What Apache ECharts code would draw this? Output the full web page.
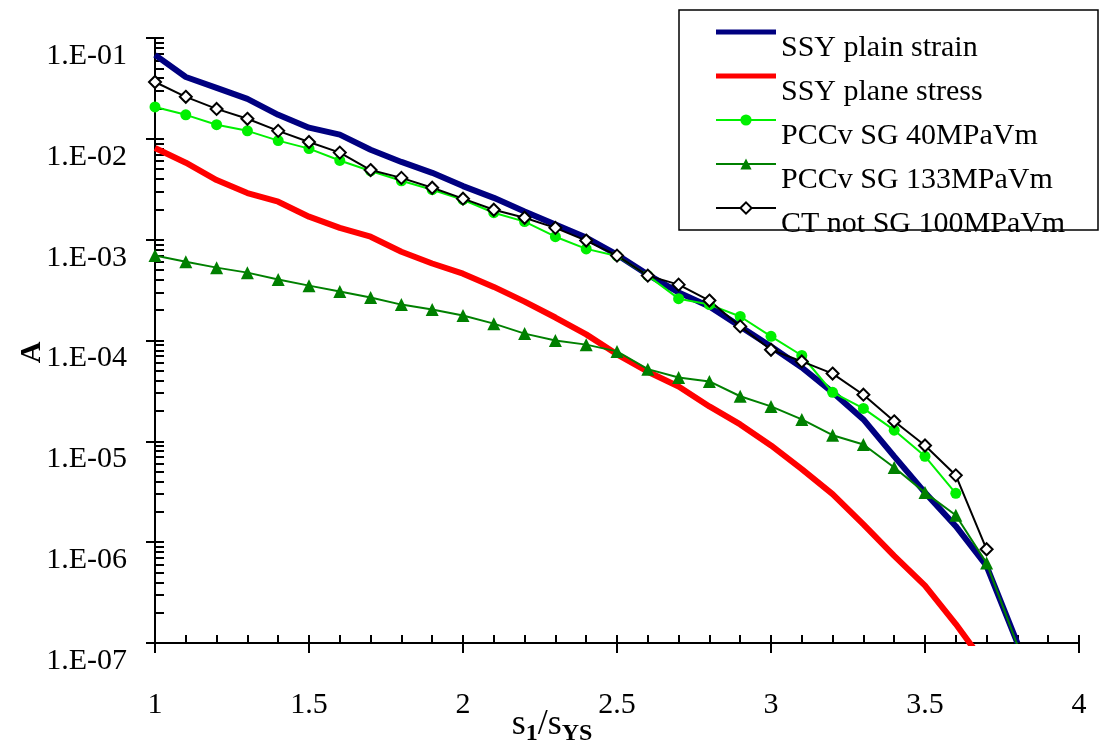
<!DOCTYPE html>
<html>
<head>
<meta charset="utf-8">
<script src="https://cdn.jsdelivr.net/npm/echarts@6.0.0/dist/echarts.min.js"></script>
<style>
html, body { margin: 0; padding: 0; background: #fff; }
#chart { width: 1099px; height: 749px; }
</style>
</head>
<body>
<div id="chart"></div>
<script>
// s1/sYS values shared by all curves
const xValues = [1.0, 1.1, 1.2, 1.3, 1.4, 1.5, 1.6, 1.7, 1.8, 1.9, 2.0, 2.1, 2.2, 2.3, 2.4,
    2.5, 2.6, 2.7, 2.8, 2.9, 3.0, 3.1, 3.2, 3.3, 3.4, 3.5, 3.6, 3.7, 3.8]

const ssyPlainStrain = [0.068, 0.041, 0.032, 0.0249, 0.0173, 0.0129, 0.011, 0.0078, 0.0059, 0.0046,
    0.0034, 0.0026, 0.0019, 0.00141, 0.00105, 7.1e-4, 4.5e-4, 3.0e-4, 2.17e-4, 1.38e-4,
    8.7e-5, 5.4e-5, 3.06e-5, 1.65e-5, 7.1e-6, 3.1e-6, 1.44e-6, 5.8e-7, 1.0e-7]
const ssyPlaneStress = [0.0081, 0.0058, 0.0039, 0.0029, 0.00238, 0.00169, 0.00131, 0.00107, 7.6e-4, 5.8e-4,
    4.6e-4, 3.4e-4, 2.43e-4, 1.69e-4, 1.15e-4, 7.3e-5, 4.9e-5, 3.5e-5, 2.22e-5, 1.47e-5,
    9.1e-6, 5.3e-6, 3.0e-6, 1.5e-6, 7.3e-7, 3.7e-7, 1.54e-7, 5.9e-8]
const pccv40 = [0.0207, 0.0173, 0.0138, 0.0120, 0.0096, 0.0080, 0.0061, 0.0048, 0.00384, 0.00313,
    0.00249, 0.00185, 0.00151, 0.00107, 8.1e-4, 6.9e-4, 4.4e-4, 2.6e-4, 2.27e-4, 1.73e-4,
    1.1e-4, 7.1e-5, 3.06e-5, 2.12e-5, 1.29e-5, 7.1e-6, 3.05e-6]
const pccv133 = [6.95e-4, 6.05e-4, 5.28e-4, 4.71e-4, 4.02e-4, 3.5e-4, 3.06e-4, 2.67e-4, 2.27e-4, 2.03e-4,
    1.77e-4, 1.47e-4, 1.17e-4, 1.0e-4, 9.1e-5, 7.8e-5, 5.2e-5, 4.3e-5, 3.93e-5, 2.8e-5,
    2.22e-5, 1.65e-5, 1.15e-5, 9.3e-6, 5.5e-6, 3.1e-6, 1.85e-6, 6.2e-7, 9.5e-8]
const ctNotSg = [0.0366, 0.0261, 0.0198, 0.0158, 0.0120, 0.0093, 0.0073, 0.0049, 0.0041, 0.00327,
    0.00255, 0.00198, 0.00165, 0.00131, 9.8e-4, 6.95e-4, 4.4e-4, 3.58e-4, 2.49e-4, 1.38e-4,
    8.1e-5, 6.2e-5, 4.7e-5, 2.9e-5, 1.58e-5, 9.1e-6, 4.6e-6, 8.5e-7]

const seriesNames = ['SSY plain strain', 'SSY plane stress', 'PCCv SG 40MPaVm', 'PCCv SG 133MPaVm', 'CT not SG 100MPaVm']

const yTickValues = [1e-7, 1e-6, 1e-5, 1e-4, 1e-3, 1e-2, 1e-1]
const yTickLabels = ['1.E-07', '1.E-06', '1.E-05', '1.E-04', '1.E-03', '1.E-02', '1.E-01']

// minor ticks 2..9 in each decade
let yMinorTicks = []
for (let i = 0; i < yTickValues.length - 1; i++) {
    for (let k = 2; k <= 9; k++) yMinorTicks.push(k * yTickValues[i])
}

const font = '"Liberation Serif", "Times New Roman", serif'
const pairs = (arr) => arr.map((v, i) => [xValues[i], v])
const thickIcon = 'path://M0,0L60,0L60,5L0,5Z'

const chart = echarts.init(document.getElementById('chart'))
const axisLine = { show: true, lineStyle: { color: '#000', width: 2 } }
const option = {
    animation: false,
    backgroundColor: '#fff',
    grid: { left: 155, right: 20, top: 38, bottom: 106, containLabel: false, outerBoundsMode: 'none' },
    // legend frame
    graphic: {
        elements: [{
            type: 'rect',
            z: 3,
            shape: { x: 679, y: 10, width: 419, height: 220 },
            style: { fill: '#fff', stroke: '#000', lineWidth: 1.5 },
        }],
    },
    legend: {
        orient: 'vertical',
        left: 715,
        top: 1,
        padding: 0,
        itemGap: -18,
        itemWidth: 60,
        itemHeight: 14,
        data: [
            { name: seriesNames[0], icon: thickIcon },
            { name: seriesNames[1], icon: thickIcon },
            seriesNames[2],
            seriesNames[3],
            seriesNames[4],
        ],
        formatter: (name) => '{t|' + name + '}',
        textStyle: {
            color: '#000',
            rich: {
                t: {
                    fontFamily: font,
                    fontSize: 30,
                    color: '#000',
                    lineHeight: 14,
                    padding: [32, 0, 0, 0],
                },
            },
        },
    },
    xAxis: [
        {
            type: 'value',
            min: 1,
            max: 4,
            interval: 0.5,
            position: 'bottom',
            axisLine: axisLine,
            axisTick: { show: true, length: 10, lineStyle: { color: '#000', width: 2 } },
            axisLabel: { fontFamily: font, fontSize: 30, color: '#000', margin: 47 },
            splitLine: { show: false },
            name: '{a|s}{b|1}{a|/s}{b|YS}',
            nameLocation: 'middle',
            nameGap: 61,
            nameMoveOverlap: false,
            nameTextStyle: {
                padding: [0, 130, 0, 0],
                rich: {
                    a: { fontFamily: font, fontSize: 36, color: '#000' },
                    b: { fontFamily: font, fontSize: 24, fontWeight: 'bold', color: '#000', padding: [18, 0, 0, 0] },
                },
            },
        },
        {
            // inner minor ticks
            type: 'value',
            min: 1,
            max: 4,
            interval: 0.1,
            position: 'bottom',
            axisLine: { show: false },
            axisTick: { show: true, inside: true, length: 8, lineStyle: { color: '#000', width: 2 } },
            axisLabel: { show: false },
            splitLine: { show: false },
        },
    ],
    yAxis: [
        {
            type: 'log',
            logBase: 10,
            min: 1e-7,
            max: 1e-1,
            position: 'left',
            axisLine: axisLine,
            axisTick: { show: true, length: 9, lineStyle: { color: '#000', width: 2 } },
            axisLabel: {
                fontFamily: font,
                fontSize: 30,
                color: '#000',
                margin: 28,
                verticalAlign: 'top',
                lineHeight: 36,
                formatter: (v) => {
                    const idx = yTickValues.findIndex(t => Math.abs(Math.log10(t) - Math.log10(v)) < 1e-6)
                    return idx >= 0 ? yTickLabels[idx] : ''
                },
            },
            splitLine: { show: false },
            name: 'A',
            nameLocation: 'middle',
            nameRotate: 90,
            nameGap: 108,
            nameMoveOverlap: false,
            nameTextStyle: {
                fontFamily: font,
                fontSize: 30,
                fontWeight: 'bold',
                color: '#000',
                padding: [0, 24, 0, 0],
            },
        },
        {
            // inner ticks (major + minor)
            type: 'log',
            logBase: 10,
            min: 1e-7,
            max: 1e-1,
            position: 'left',
            axisLine: { show: false },
            axisTick: {
                show: true,
                inside: true,
                length: 9,
                customValues: yTickValues.concat(yMinorTicks),
                lineStyle: { color: '#000', width: 2 },
            },
            axisLabel: { show: false },
            splitLine: { show: false },
        },
    ],
    series: [
        {
            name: seriesNames[0],
            type: 'line',
            data: pairs(ssyPlainStrain),
            symbol: 'none',
            lineStyle: { color: '#000080', width: 6 },
            itemStyle: { color: '#000080' },
        },
        {
            name: seriesNames[1],
            type: 'line',
            data: pairs(ssyPlaneStress),
            symbol: 'none',
            lineStyle: { color: '#ff0000', width: 6 },
            itemStyle: { color: '#ff0000' },
        },
        {
            name: seriesNames[2],
            type: 'line',
            data: pairs(pccv40),
            symbol: 'circle',
            symbolSize: 11,
            lineStyle: { color: '#00f000', width: 2 },
            itemStyle: { color: '#00f000' },
        },
        {
            name: seriesNames[3],
            type: 'line',
            data: pairs(pccv133),
            symbol: 'triangle',
            symbolSize: 13,
            lineStyle: { color: '#008000', width: 2 },
            itemStyle: { color: '#008000' },
        },
        {
            name: seriesNames[4],
            type: 'line',
            data: pairs(ctNotSg),
            symbol: 'diamond',
            symbolSize: 12,
            lineStyle: { color: '#000', width: 2 },
            itemStyle: { color: '#fff', borderColor: '#000', borderWidth: 2 },
        },
    ],
}
chart.setOption(option)
</script>
</body>
</html>
